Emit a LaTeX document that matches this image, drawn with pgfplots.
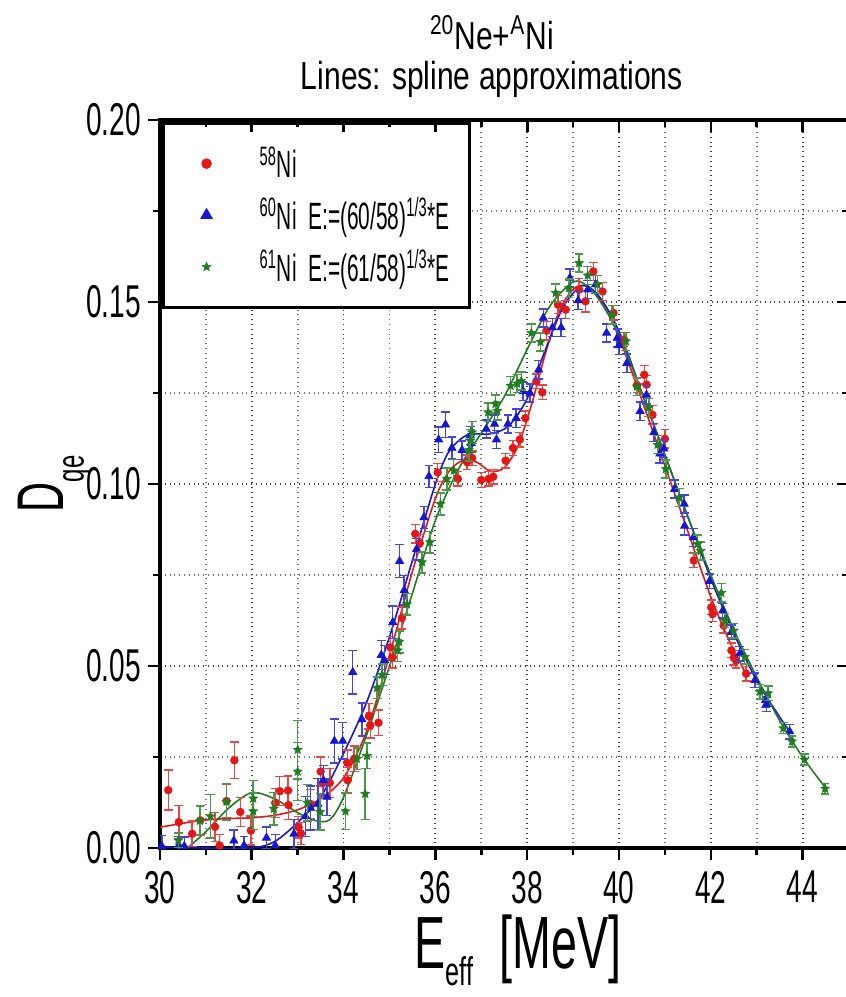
\documentclass[border=0pt]{standalone}
\usepackage{fontspec}
\setmainfont{Liberation Sans}[FakeStretch=0.61]
\newfontfamily\titlefont{Liberation Sans}[FakeStretch=0.77]
\newfontfamily\legfont{Liberation Sans}[FakeStretch=0.55]
\newfontfamily\labfont{Liberation Sans}[FakeStretch=0.63]
\usepackage{pgfplots}
\usepackage{pgfplotstable}
\pgfplotsset{compat=1.18}
\usetikzlibrary{plotmarks}
\definecolor{cR}{RGB}{228,22,22}
\definecolor{cB}{RGB}{22,22,210}
\definecolor{cG}{RGB}{30,125,30}
\pgfdeclareplotmark{fstar}{%
  \pgfpathmoveto{\pgfpointpolar{90}{\pgfplotmarksize}}%
  \pgfpathlineto{\pgfpointpolar{126}{0.45\pgfplotmarksize}}%
  \pgfpathlineto{\pgfpointpolar{162}{\pgfplotmarksize}}%
  \pgfpathlineto{\pgfpointpolar{198}{0.45\pgfplotmarksize}}%
  \pgfpathlineto{\pgfpointpolar{234}{\pgfplotmarksize}}%
  \pgfpathlineto{\pgfpointpolar{270}{0.45\pgfplotmarksize}}%
  \pgfpathlineto{\pgfpointpolar{306}{\pgfplotmarksize}}%
  \pgfpathlineto{\pgfpointpolar{342}{0.45\pgfplotmarksize}}%
  \pgfpathlineto{\pgfpointpolar{18}{\pgfplotmarksize}}%
  \pgfpathlineto{\pgfpointpolar{54}{0.45\pgfplotmarksize}}%
  \pgfpathclose\pgfusepathqfillstroke}

\pgfplotstableread{
x y e
30.18 0.0159 0.0055
30.41 0.0071 0.0045
30.70 0.0039 0.0035
30.88 0.0076 0.0040
31.20 0.0058 0.0040
31.30 0.0007 0.0030
31.45 0.0129 0.0045
31.62 0.0241 0.0050
31.75 0.0099 0.0040
31.98 0.0048 0.0040
32.51 0.0124 0.0040
32.61 0.0156 0.0040
32.79 0.0158 0.0040
32.80 0.0118 0.0040
33.02 0.0057 0.0030
33.07 0.0040 0.0030
33.28 0.0121 0.0040
33.50 0.0210 0.0040
33.55 0.0179 0.0040
33.70 0.0179 0.0040
34.08 0.0234 0.0035
34.09 0.0186 0.0035
34.23 0.0245 0.0035
34.55 0.0362 0.0035
34.58 0.0337 0.0035
34.76 0.0344 0.0035
35.02 0.0551 0.0030
35.07 0.0524 0.0030
35.27 0.0632 0.0030
35.56 0.0863 0.0025
35.66 0.0837 0.0025
36.05 0.1032 0.0025
36.49 0.1014 0.0020
36.69 0.1060 0.0020
36.80 0.1071 0.0020
37.00 0.1011 0.0020
37.16 0.1014 0.0020
37.26 0.1020 0.0020
37.53 0.1064 0.0020
37.69 0.1099 0.0020
37.84 0.1122 0.0020
37.96 0.1181 0.0020
38.20 0.1282 0.0020
38.33 0.1252 0.0020
38.42 0.1421 0.0025
38.67 0.1493 0.0025
38.84 0.1479 0.0025
39.13 0.1534 0.0030
39.27 0.1502 0.0030
39.44 0.1584 0.0025
39.64 0.1529 0.0025
39.88 0.1470 0.0020
40.11 0.1397 0.0020
40.39 0.1271 0.0020
40.55 0.1300 0.0025
40.60 0.1273 0.0025
40.73 0.1190 0.0025
41.00 0.1124 0.0025
41.63 0.0790 0.0020
42.01 0.0661 0.0020
42.04 0.0643 0.0020
42.28 0.0611 0.0020
42.45 0.0543 0.0020
42.50 0.0523 0.0020
42.55 0.0515 0.0020
42.77 0.0479 0.0020
}\redtab

\pgfplotstableread{
x y e
30.04 0.0005 0.0030
30.41 0.0007 0.0025
30.53 0.0005 0.0025
31.61 0.0020 0.0030
31.83 0.0007 0.0025
32.32 0.0028 0.0030
32.51 0.0007 0.0030
32.92 0.0039 0.0040
33.17 0.0087 0.0055
33.28 0.0110 0.0060
33.44 0.0121 0.0070
33.56 0.0186 0.0040
33.64 0.0140 0.0050
33.80 0.0294 0.0060
33.98 0.0294 0.0050
34.20 0.0483 0.0060
34.40 0.0353 0.0045
34.82 0.0530 0.0040
34.89 0.0516 0.0040
35.07 0.0620 0.0045
35.22 0.0788 0.0045
35.32 0.0708 0.0040
35.59 0.0821 0.0030
35.75 0.0908 0.0030
35.86 0.1021 0.0030
36.07 0.1122 0.0035
36.22 0.1163 0.0035
36.36 0.1099 0.0030
36.58 0.1093 0.0025
36.76 0.1133 0.0025
36.78 0.1112 0.0025
37.11 0.1151 0.0025
37.29 0.1165 0.0025
37.33 0.1122 0.0025
37.58 0.1165 0.0025
37.76 0.1181 0.0025
37.91 0.1255 0.0025
38.06 0.1250 0.0025
38.25 0.1314 0.0025
38.35 0.1456 0.0025
38.55 0.1430 0.0025
38.74 0.1430 0.0025
38.93 0.1566 0.0025
39.11 0.1504 0.0025
39.32 0.1534 0.0025
39.49 0.1548 0.0025
39.73 0.1415 0.0025
39.96 0.1401 0.0025
40.00 0.1381 0.0025
40.17 0.1332 0.0025
40.46 0.1200 0.0025
40.60 0.1245 0.0025
40.76 0.1142 0.0025
40.89 0.1083 0.0025
40.98 0.1097 0.0025
41.21 0.0986 0.0025
41.42 0.0945 0.0025
41.43 0.0885 0.0025
41.62 0.0853 0.0025
41.97 0.0733 0.0020
42.26 0.0652 0.0020
42.45 0.0593 0.0020
42.63 0.0534 0.0020
42.96 0.0461 0.0020
43.19 0.0406 0.0020
43.21 0.0395 0.0020
43.72 0.0320 0.0020
}\bluetab

\pgfplotstableread{
x y e
30.40 0.0021 0.0020
30.87 0.0075 0.0040
31.10 0.0087 0.0060
31.45 0.0127 0.0050
32.03 0.0136 0.0050
32.03 0.0101 0.0050
32.48 0.0108 0.0045
33.00 0.0270 0.0080
33.00 0.0210 0.0080
33.21 0.0124 0.0050
33.49 0.0099 0.0050
34.04 0.0101 0.0050
34.29 0.0245 0.0030
34.47 0.0149 0.0070
34.51 0.0253 0.0035
34.73 0.0440 0.0030
34.84 0.0476 0.0030
35.18 0.0543 0.0030
35.21 0.0566 0.0030
35.38 0.0670 0.0030
35.71 0.0785 0.0030
35.88 0.0840 0.0030
36.11 0.0945 0.0030
36.25 0.1014 0.0030
36.40 0.1037 0.0030
36.73 0.1093 0.0030
36.76 0.1119 0.0030
36.80 0.1142 0.0030
37.15 0.1197 0.0025
37.31 0.1220 0.0025
37.35 0.1201 0.0025
37.64 0.1270 0.0025
37.78 0.1276 0.0025
37.87 0.1283 0.0025
38.09 0.1415 0.0025
38.29 0.1390 0.0025
38.62 0.1525 0.0025
38.91 0.1538 0.0025
39.13 0.1607 0.0025
39.32 0.1573 0.0025
39.53 0.1548 0.0025
39.85 0.1465 0.0025
40.15 0.1392 0.0025
40.39 0.1268 0.0025
40.65 0.1210 0.0025
40.84 0.1108 0.0025
41.02 0.1041 0.0025
41.31 0.0963 0.0025
41.71 0.0835 0.0025
41.78 0.0816 0.0025
42.23 0.0701 0.0025
42.31 0.0625 0.0020
42.50 0.0597 0.0020
42.74 0.0525 0.0020
43.07 0.0429 0.0020
43.25 0.0425 0.0020
43.58 0.0329 0.0015
43.77 0.0293 0.0015
44.04 0.0243 0.0015
44.49 0.0163 0.0015
}\greentab

\begin{document}
\begin{tikzpicture}
\pgfplotsset{
  common/.style={
    at={(0,0)}, anchor=south west,
    scale only axis, width=344.25pt, height=364pt,
    xmin=30, xmax=45, ymin=0, ymax=0.2,
    xtick={30,32,34,36,38,40,42,44}, minor x tick num=1,
    ytick={0,0.05,0.1,0.15,0.2}, minor y tick num=1,
    major tick length=6pt, minor tick length=3.5pt,
    every tick/.style={black, line width=1.3pt},
    axis line style={line width=1.6pt},
  }
}
\begin{axis}[common, clip mode=individual,
  tick align=outside, xtick pos=left, ytick pos=left,
  grid=both,
  major grid style={dotted, black!75, line width=0.9pt},
  minor grid style={dotted, black!55, line width=0.9pt},
  /pgf/number format/assume math mode=true,
  ticklabel style={font=\fontsize{23}{27}\selectfont},
  yticklabel style={/pgf/number format/.cd, fixed, fixed zerofill, precision=2},
  xticklabel style={yshift=-2pt},
  xlabel={E\raisebox{-0.24em}{\fontsize{20}{23}\selectfont eff}\ \ [MeV]},
  xlabel style={font=\labfont\fontsize{37}{42}\selectfont, inner sep=0pt, at={(axis description cs:0.52,0)}, anchor=north, yshift=-33pt},
  ylabel={D\raisebox{-0.3em}{\fontsize{19}{22}\selectfont qe}},
  ylabel style={font=\labfont\fontsize{33}{38}\selectfont, inner sep=0pt, at={(axis description cs:0,0.5)}, anchor=south, yshift=34pt},
  legend style={at={(0.003,0.997)}, anchor=north west, draw=black, line width=1.4pt,
    fill=white, font=\legfont\fontsize{19}{23}\selectfont, row sep=4.5pt,
    inner xsep=8pt, inner ysep=9.5pt},
  legend cell align=left,
  legend image code/.code={\draw[draw=white, opacity=0, line width=0.1pt] (0pt,0pt) -- (28pt,0pt); \draw[#1] plot coordinates {(13.5pt,0pt)};},
]
\addplot[cR, line width=0.8pt, smooth, forget plot] coordinates {
(30,0.0057) (30.5,0.0068) (31,0.0077) (31.5,0.0081) (32,0.0083) (32.5,0.0090)
(33,0.0105) (33.5,0.0135) (34,0.0193) (34.5,0.032) (35,0.053) (35.5,0.076)
(36,0.096) (36.3,0.1035) (36.6,0.1065) (36.9,0.1060) (37.2,0.1035) (37.5,0.1045)
(37.8,0.1105) (38.1,0.122) (38.4,0.136) (38.7,0.1475) (39.0,0.1535) (39.25,0.1545)
(39.5,0.152) (39.8,0.146) (40.1,0.137) (40.5,0.123) (41,0.105) (41.5,0.087)
(42,0.069) (42.4,0.057) (42.8,0.047)};
\addplot[cB, line width=0.8pt, smooth, forget plot] coordinates {
(30,0.0003) (31,0.0) (32,0.0) (32.5,0.0018) (33,0.0070) (33.5,0.0140) (34,0.0260)
(34.5,0.040) (35,0.058) (35.5,0.079) (36,0.100) (36.3,0.109) (36.7,0.1135)
(37.2,0.1138) (37.6,0.1160) (38.0,0.1235) (38.4,0.137) (38.8,0.149) (39.2,0.1545)
(39.5,0.1525) (39.8,0.147) (40.1,0.139) (40.5,0.125) (41,0.108) (41.5,0.091)
(42,0.074) (42.5,0.059) (43,0.046) (43.5,0.036) (43.72,0.032)};
\addplot[cG, line width=0.8pt, smooth, forget plot] coordinates {
(30.6,0.0) (31.0,0.0045) (31.5,0.011) (32.0,0.0152) (32.5,0.0135) (33.0,0.0097)
(33.4,0.0075) (33.7,0.0078) (34.0,0.014) (34.5,0.031) (35.0,0.050) (35.5,0.070)
(36.0,0.090) (36.5,0.104) (37.0,0.114) (37.5,0.124) (38.0,0.137) (38.5,0.149)
(39.0,0.1555) (39.3,0.1545) (39.6,0.150) (40.0,0.141) (40.5,0.125) (41.0,0.108)
(41.5,0.091) (42.0,0.075) (42.5,0.060) (43.0,0.047) (43.5,0.035) (44.0,0.025) (44.5,0.0165)};

\addplot[only marks, mark=*, mark size=1.9pt, color=cR, mark options={fill=cR},
  error bars/.cd, y dir=both, y explicit,
  error bar style={line width=0.7pt, cR!80},
  error mark options={rotate=90, mark size=2.2pt, line width=0.7pt, cR!80}]
  table[x=x, y=y, y error=e] {\redtab};
\addlegendentry{\hspace*{10pt}\textsuperscript{58}Ni}
\addplot[only marks, mark=triangle*, mark size=2.3pt, color=cB, mark options={fill=cB},
  error bars/.cd, y dir=both, y explicit,
  error bar style={line width=0.7pt, cB!80},
  error mark options={rotate=90, mark size=2.2pt, line width=0.7pt, cB!80}]
  table[x=x, y=y, y error=e] {\bluetab};
\addlegendentry{\hspace*{10pt}\textsuperscript{60}Ni\ \ E:=(60/58)\textsuperscript{1/3}*E}
\addplot[only marks, mark=fstar, mark size=2.3pt, color=cG, mark options={fill=cG, line width=0.3pt},
  error bars/.cd, y dir=both, y explicit,
  error bar style={line width=0.7pt, cG!80},
  error mark options={rotate=90, mark size=2.2pt, line width=0.7pt, cG!80}]
  table[x=x, y=y, y error=e] {\greentab};
\addlegendentry{\hspace*{10pt}\textsuperscript{61}Ni\ \ E:=(61/58)\textsuperscript{1/3}*E}

\node[font=\titlefont\fontsize{19.5}{23}\selectfont, anchor=base] at (rel axis cs:0.482,1) [yshift=35pt] {\textsuperscript{20}Ne+\textsuperscript{A}Ni};
\node[font=\titlefont\fontsize{19.5}{23}\selectfont, anchor=base] at (rel axis cs:0.482,1) [yshift=15pt] {Lines: spline approximations};
\end{axis}
\begin{axis}[common,
  tick align=inside, xtick pos=right, ytick pos=right,
  xticklabels={}, yticklabels={},
  axis line style={draw=none},
]
\end{axis}
\pgfresetboundingbox
\path (-80pt,-74.5pt) rectangle (343pt,424pt);
\end{tikzpicture}
\end{document}
